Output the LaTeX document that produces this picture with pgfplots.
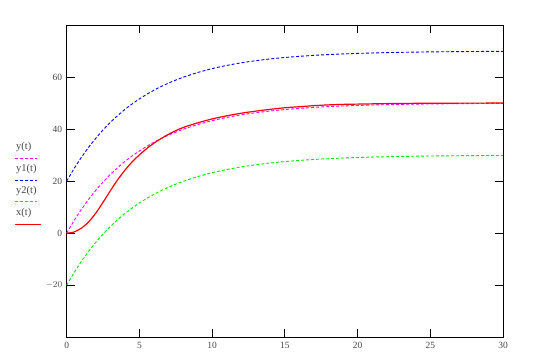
\documentclass[border=0pt]{standalone}
\usepackage{pgfplots}
\pgfplotsset{compat=1.18}
\usepackage{pgfplotstable}
\usepackage{fontspec}
\setmainfont{Liberation Serif}
\pgfplotstableread{
t y y1 y2 x
0 0 20 -20 0
0.5 4.758 24.758 -15.242 0.45
1 9.063 29.063 -10.937 1.9
1.5 12.959 32.959 -7.041 4.3
2 16.484 36.484 -3.516 7.7
2.5 19.673 39.673 -0.327 11.9
3 22.559 42.559 2.559 16.3
3.5 25.171 45.171 5.171 20.5
4 27.534 47.534 7.534 24.2
4.5 29.672 49.672 9.672 27.4
5 31.606 51.606 11.606 30.1
5.5 33.356 53.356 13.356 32.5
6 34.940 54.940 14.940 34.6
6.5 36.373 56.373 16.373 36.4
7 37.670 57.670 17.670 38.0
7.5 38.843 58.843 18.843 39.4
8 39.905 59.905 19.905 40.6
9 41.735 61.735 21.735 42.4
10 43.233 63.233 23.233 43.9
11 44.460 64.460 24.460 45.1
12 45.464 65.464 25.464 46.1
13 46.286 66.286 26.286 46.9
14 46.960 66.960 26.960 47.6
15 47.511 67.511 27.511 48.2
16 47.962 67.962 27.962 48.6
17 48.331 68.331 28.331 49.0
18 48.634 68.634 28.634 49.3
19 48.882 68.882 28.882 49.5
20 49.084 69.084 29.084 49.6
21 49.250 69.250 29.250 49.7
22 49.386 69.386 29.386 49.8
23 49.497 69.497 29.497 49.85
24 49.588 69.588 29.588 49.9
25 49.663 69.663 29.663 49.93
26 49.724 69.724 29.724 49.95
27 49.774 69.774 29.774 49.97
28 49.815 69.815 29.815 49.98
29 49.849 69.849 29.849 49.99
30 49.876 69.876 29.876 50
}\data
\definecolor{mc}{RGB}{255,0,255}
\definecolor{bc}{RGB}{0,0,255}
\definecolor{gc}{RGB}{0,230,0}
\definecolor{rc}{RGB}{255,0,0}
\definecolor{tc}{RGB}{70,70,70}
\begin{document}
\begin{tikzpicture}[x=1bp,y=1bp]
\useasboundingbox (0,0) rectangle (535,359);
\begin{axis}[
  at={(66.7bp,21.7bp)}, anchor=south west,
  scale only axis, width=436.3bp, height=312.3bp,
  xmin=0, xmax=30, ymin=-40, ymax=80,
  xtick={0,5,10,15,20,25,30},
  ytick={-40,-20,0,20,40,60,80},
  yticklabels={,$-20$,0,20,40,60,},
  tick align=inside, major tick length=8bp,
  axis line style={line width=0.9bp},
  every tick/.style={black, line width=0.9bp},
  tick label style={font=\fontsize{9.5}{10}\selectfont, text=tc},
  /pgf/number format/assume math mode=true,
  xticklabel style={yshift=-1bp},
  yticklabel style={xshift=-1bp},
  clip=false,
]
\addplot[mc, line width=0.9bp, dash pattern=on 3bp off 2bp, smooth] table[x=t,y=y] {\data};
\addplot[bc, line width=0.9bp, dash pattern=on 3bp off 2bp, smooth] table[x=t,y=y1] {\data};
\addplot[gc, line width=0.9bp, dash pattern=on 3bp off 2bp, smooth] table[x=t,y=y2] {\data};
\addplot[rc, line width=1.2bp, smooth] table[x=t,y=x] {\data};
\end{axis}
% legend
\begin{scope}[every node/.style={font=\fontsize{10.5}{11}\selectfont, text=tc, anchor=west, inner sep=0pt}]
\node at (16,212.3) {y(t)};
\draw[mc, line width=0.9bp, dash pattern=on 3bp off 2bp] (15,200.7) -- (37,200.7);
\node at (16,189.7) {y1(t)};
\draw[bc, line width=0.9bp, dash pattern=on 3bp off 2bp] (15,179) -- (37,179);
\node at (16,168) {y2(t)};
\draw[gc, line width=0.9bp, dash pattern=on 3bp off 2bp] (15,157.3) -- (37,157.3);
\node at (16,146.3) {x(t)};
\draw[rc, line width=1.2bp] (15,134.7) -- (41,134.7);
\end{scope}
\end{tikzpicture}
\end{document}
